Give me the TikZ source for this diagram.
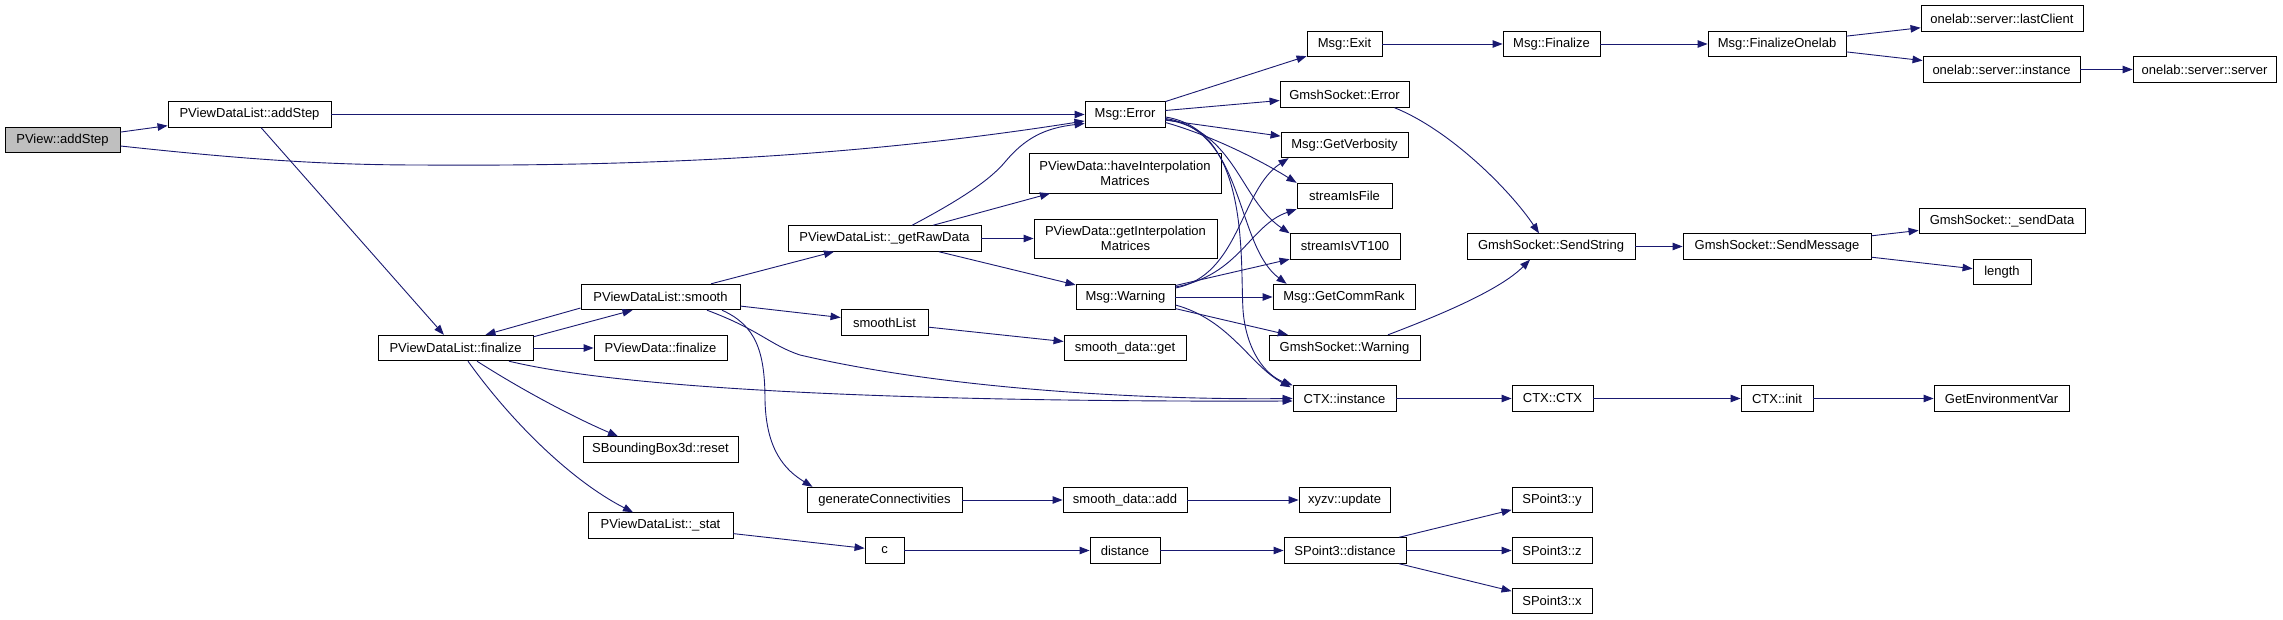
\documentclass[tikz,border=0pt]{standalone}
\usepackage{fontspec}
\setmainfont{Liberation Sans}
\usetikzlibrary{arrows.meta,calc}
\definecolor{edgecol}{HTML}{191970}
\definecolor{rootfill}{HTML}{BFBFBF}
\tikzset{
  box/.style={draw=black, line width=0.9pt, fill=white, rectangle, inner sep=0pt, minimum height=25.5pt, align=center, font=\fontsize{13}{15}\selectfont},
  edge/.style={draw=edgecol, line width=0.9pt, -{Triangle[length=10pt,width=7.5pt]}},
}
\begin{document}
\begin{tikzpicture}[x=1pt,y=-1pt]
\useasboundingbox[fill=white] (0,0) rectangle (2283,620);
% nodes
\node[box, fill=rootfill, minimum width=115pt] (pview) at (62.5,140) {PView::addStep};
\node[box, minimum width=163pt] (addstep) at (249.5,114.5) {PViewDataList::addStep};
\node[box, minimum width=155pt] (finalize) at (455.5,348) {PViewDataList::finalize};
\node[box, minimum width=133pt] (pvdfin) at (660.5,348) {PViewData::finalize};
\node[box, minimum width=155pt] (sbb) at (660.5,449.5) {SBoundingBox3d::reset};
\node[box, minimum width=145pt] (stat) at (660.5,525.5) {PViewDataList::\_stat};
\node[box, minimum width=159pt] (smooth) at (660.5,297) {PViewDataList::smooth};
\node[box, minimum width=193pt] (getraw) at (884.5,238.5) {PViewDataList::\_getRawData};
\node[box, minimum width=87pt] (smoothlist) at (884.5,322.5) {smoothList};
\node[box, minimum width=155pt] (genconn) at (884.5,500) {generateConnectivities};
\node[box, minimum width=39pt] (cnode) at (884.5,550.5) {c};
\node[box, minimum width=80pt] (msgerror) at (1125,114.5) {Msg::Error};
\node[box, minimum width=192pt, minimum height=40pt] (haveinterp) at (1125,173) {PViewData::haveInterpolation\\Matrices};
\node[box, minimum width=183pt, minimum height=39pt] (getinterp) at (1125.5,238.5) {PViewData::getInterpolation\\Matrices};
\node[box, minimum width=99pt] (warning) at (1125.5,297) {Msg::Warning};
\node[box, minimum width=122pt] (sdget) at (1125,348) {smooth\_data::get};
\node[box, minimum width=124pt] (sdadd) at (1125,500) {smooth\_data::add};
\node[box, minimum width=70pt] (distance) at (1125,550.5) {distance};
\node[box, minimum width=75pt] (msgexit) at (1344.5,44) {Msg::Exit};
\node[box, minimum width=129pt] (gserror) at (1344.5,94.5) {GmshSocket::Error};
\node[box, minimum width=127pt] (verbosity) at (1344.5,145) {Msg::GetVerbosity};
\node[box, minimum width=95pt] (isfile) at (1344.5,196) {streamIsFile};
\node[box, minimum width=110pt] (isvt) at (1345,246.5) {streamIsVT100};
\node[box, minimum width=142pt] (commrank) at (1344,297) {Msg::GetCommRank};
\node[box, minimum width=151pt] (gswarning) at (1344.5,348) {GmshSocket::Warning};
\node[box, minimum width=103pt] (ctxinst) at (1344.5,398.5) {CTX::instance};
\node[box, minimum width=91pt] (xyzv) at (1344.5,500) {xyzv::update};
\node[box, minimum width=122pt] (spdist) at (1345,550.5) {SPoint3::distance};
\node[box, minimum width=97pt] (msgfin) at (1551.5,44) {Msg::Finalize};
\node[box, minimum width=168pt] (sendstring) at (1551,246.5) {GmshSocket::SendString};
\node[box, minimum width=81pt] (ctxctx) at (1552.5,398.5) {CTX::CTX};
\node[box, minimum width=80pt] (spy) at (1552,500) {SPoint3::y};
\node[box, minimum width=80pt] (spz) at (1552,550.5) {SPoint3::z};
\node[box, minimum width=80pt] (spx) at (1552,601) {SPoint3::x};
\node[box, minimum width=138pt] (finonelab) at (1777,44) {Msg::FinalizeOnelab};
\node[box, minimum width=188pt] (sendmsg) at (1777,246.5) {GmshSocket::SendMessage};
\node[box, minimum width=72pt] (ctxinit) at (1777,398.5) {CTX::init};
\node[box, minimum width=162pt] (lastclient) at (2002,18.5) {onelab::server::lastClient};
\node[box, minimum width=157pt] (instance) at (2001.5,69.5) {onelab::server::instance};
\node[box, minimum width=166pt] (senddata) at (2002,221) {GmshSocket::\_sendData};
\node[box, minimum width=58pt] (length) at (2002,272) {length};
\node[box, minimum width=135pt] (getenv) at (2001.5,398.5) {GetEnvironmentVar};
\node[box, minimum width=143pt] (server) at (2204.5,69.5) {onelab::server::server};
% edges
\draw[edge] (pview) -- (addstep);
\draw[edge] ($(pview.east)+(0,6)$) .. controls (250,160) and (330,165) .. (420,165) .. controls (700,167) and (900,150) .. ($(msgerror.west)+(0,6.5)$);
\draw[edge] (addstep) -- (msgerror);
\draw[edge] (addstep) -- (finalize);
\draw[edge] ($(finalize.north east)+(0,2)$) -- ($(smooth.south)+(-28,0)$);
\draw[edge] ($(smooth.west)+(0,11)$) -- ($(finalize.north)+(30,0)$);
\draw[edge] (finalize) -- (pvdfin);
\draw[edge] ($(finalize.south)+(53.5,0)$) .. controls (650,395) and (1000,402) .. ($(ctxinst.west)+(0,2.5)$);
\draw[edge] ($(finalize.south)+(21.5,0)$) .. controls (530,395) and (580,420) .. ($(sbb.north)+(-42.5,0)$);
\draw[edge] ($(finalize.south)+(12.5,0)$) .. controls (510,420) and (570,480) .. ($(stat.north)+(-27.5,0)$);
\draw[edge] (smooth) -- (getraw);
\draw[edge] (smooth) -- (smoothlist);
\draw[edge] ($(smooth.south)+(46.5,0)$) .. controls (760,330) and (770,345) .. (800,355) .. controls (950,390) and (1150,400) .. (ctxinst.west);
\draw[edge] ($(smooth.south)+(61.5,0)$) .. controls (755,325) and (765,350) .. (765,400) .. controls (766,450) and (785,470) .. ($(genconn.north)+(-72,0)$);
\draw[edge] ($(getraw.north)+(27.5,0)$) .. controls (960,200) and (990,180) .. (1005,162) .. controls (1025,138) and (1045,128) .. ($(msgerror.west)+(0,9)$);
\draw[edge] (getraw) -- (haveinterp);
\draw[edge] (getraw) -- (getinterp);
\draw[edge] (getraw) -- (warning);
\draw[edge] (smoothlist) -- (sdget);
\draw[edge] (genconn) -- (sdadd);
\draw[edge] (sdadd) -- (xyzv);
\draw[edge] (stat) -- (cnode);
\draw[edge] (cnode) -- (distance);
\draw[edge] (distance) -- (spdist);
\draw[edge] (spdist) -- (spy);
\draw[edge] (spdist) -- (spz);
\draw[edge] (spdist) -- (spx);
% Msg::Error fan-out
\draw[edge] (msgerror) -- (msgexit);
\draw[edge] ($(msgerror.east)+(0,-4)$) -- ($(gserror.west)+(0,6)$);
\draw[edge] (msgerror) -- (verbosity);
\draw[edge] ($(msgerror.east)+(0,8)$) .. controls (1210,135) and (1260,160) .. (isfile.north west);
\draw[edge] ($(msgerror.east)+(0,5)$) .. controls (1235,130) and (1240,200) .. (isvt.north west);
\draw[edge] ($(msgerror.east)+(0,4)$) .. controls (1245,130) and (1235,245) .. ($(commrank.north west)+(14,0)$);
\draw[edge] ($(msgerror.east)+(0,2.5)$) .. controls (1250,130) and (1240,260) .. (1243,310) .. controls (1246,350) and (1265,375) .. (ctxinst.north west);
% Msg::Warning fan-out
\draw[edge] ($(warning.east)+(0,-9)$) .. controls (1240,275) and (1240,190) .. ($(verbosity.south west)+(8,0)$);
\draw[edge] ($(warning.east)+(0,-10)$) .. controls (1240,275) and (1250,225) .. (isfile.south west);
\draw[edge] (warning) -- (isvt);
\draw[edge] (warning) -- (commrank);
\draw[edge] (warning) -- (gswarning);
\draw[edge] ($(warning.east)+(0,8)$) .. controls (1230,320) and (1250,365) .. ($(ctxinst.north west)+(-2,2)$);
% sockets
\draw[edge] ($(gserror.south east)+(-15,0)$) .. controls (1450,130) and (1510,190) .. ($(sendstring.north)+(-12,0)$);
\draw[edge] ($(gswarning.north)+(43.5,0)$) .. controls (1440,315) and (1500,290) .. ($(sendstring.south)+(-21,0)$);
\draw[edge] (sendstring) -- (sendmsg);
\draw[edge] (sendmsg) -- (senddata);
\draw[edge] (sendmsg) -- (length);
% exit chain
\draw[edge] (msgexit) -- (msgfin);
\draw[edge] (msgfin) -- (finonelab);
\draw[edge] (finonelab) -- (lastclient);
\draw[edge] (finonelab) -- (instance);
\draw[edge] (instance) -- (server);
% ctx chain
\draw[edge] (ctxinst) -- (ctxctx);
\draw[edge] (ctxctx) -- (ctxinit);
\draw[edge] (ctxinit) -- (getenv);
\end{tikzpicture}
\end{document}
